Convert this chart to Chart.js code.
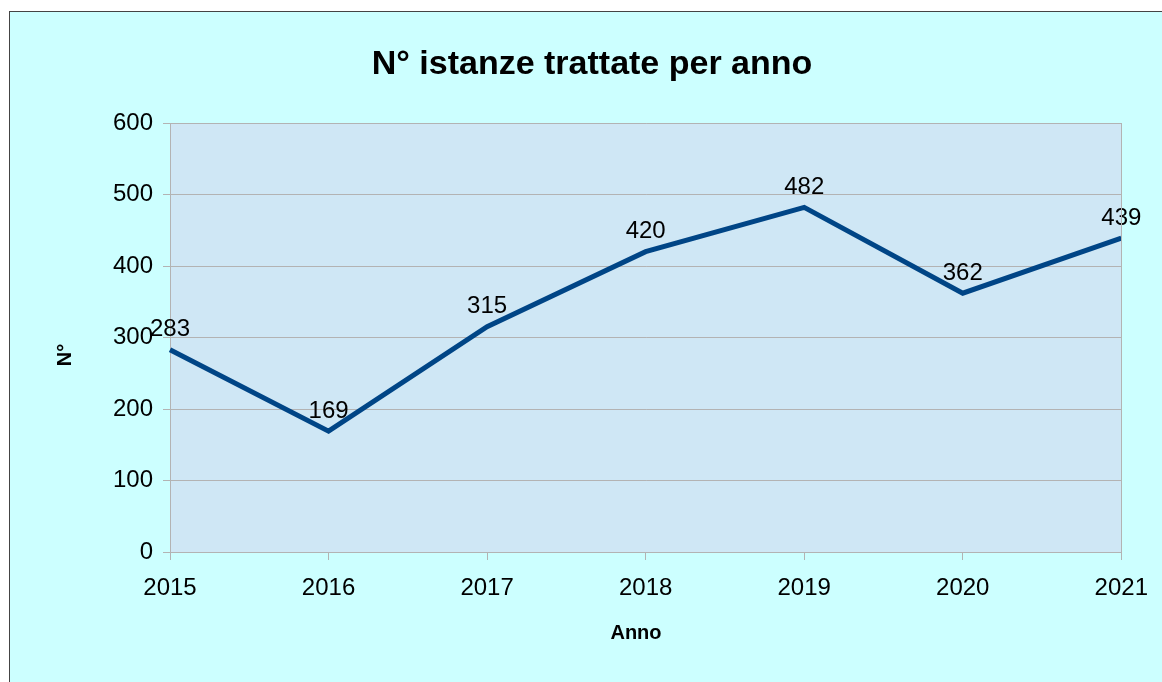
<!DOCTYPE html>
<html>
<head>
<meta charset="utf-8">
<script src="https://cdn.jsdelivr.net/npm/chart.js@4/dist/chart.umd.min.js"></script>
<style>
  html, body { margin: 0; padding: 0; background: #ffffff; }
  canvas { display: block; }
</style>
</head>
<body>
<canvas id="c" width="1162" height="682"></canvas>
<script>
const categories = ['2015', '2016', '2017', '2018', '2019', '2020', '2021'];
const values = [283, 169, 315, 420, 482, 362, 439];
const yTicks = [0, 100, 200, 300, 400, 500, 600];
const chartTitle = 'N° istanze trattate per anno';
const xTitle = 'Anno';
const yTitle = 'N°';

const FONT = '"Liberation Sans", Arial, sans-serif';

const bgPlugin = {
  id: 'bg',
  beforeDraw(chart) {
    const ctx = chart.ctx;
    const a = chart.chartArea;
    ctx.save();
    ctx.fillStyle = '#ffffff';
    ctx.fillRect(0, 0, chart.width, chart.height);
    ctx.fillStyle = '#ccffff';
    ctx.fillRect(9, 11, chart.width + 10, chart.height + 10);
    ctx.strokeStyle = '#444444';
    ctx.lineWidth = 1;
    ctx.strokeRect(9.5, 11.5, chart.width + 10, chart.height + 10);
    ctx.fillStyle = '#cfe7f5';
    ctx.fillRect(a.left, a.top, a.right - a.left, a.bottom - a.top);
    ctx.restore();
  },
  afterDraw(chart) {
    const ctx = chart.ctx;
    const a = chart.chartArea;
    ctx.save();
    ctx.strokeStyle = '#b3b3b3';
    ctx.lineWidth = 1;
    ctx.beginPath();
    ctx.moveTo(Math.round(a.right) + 0.5, a.top);
    ctx.lineTo(Math.round(a.right) + 0.5, a.bottom);
    ctx.stroke();

    // titles
    ctx.fillStyle = '#000000';
    ctx.textAlign = 'center';
    ctx.textBaseline = 'middle';
    ctx.font = 'bold 34px ' + FONT;
    ctx.fillText(chartTitle, 592, 65);
    ctx.font = 'bold 20px ' + FONT;
    ctx.fillText(xTitle, 636, 633);
    ctx.translate(65, 355);
    ctx.rotate(-Math.PI / 2);
    ctx.fillText(yTitle, 0, 0);
    ctx.restore();
  }
};

const labelPlugin = {
  id: 'valLabels',
  afterDatasetsDraw(chart) {
    const ctx = chart.ctx;
    const meta = chart.getDatasetMeta(0);
    const data = chart.data.datasets[0].data;
    ctx.save();
    ctx.font = '24px ' + FONT;
    ctx.fillStyle = '#000000';
    ctx.textAlign = 'center';
    ctx.textBaseline = 'middle';
    meta.data.forEach((pt, i) => {
      ctx.fillText(String(data[i]), pt.x, pt.y - 20);
    });
    ctx.restore();
  }
};

new Chart(document.getElementById('c'), {
  type: 'line',
  data: {
    labels: categories,
    datasets: [{
      data: values,
      borderColor: '#004586',
      borderWidth: 5,
      pointRadius: 0,
      pointHoverRadius: 0,
      tension: 0,
      fill: false,
      clip: false
    }]
  },
  options: {
    responsive: false,
    animation: false,
    events: [],
    layout: { padding: { left: 20, right: 40, top: 123, bottom: 0 } },
    plugins: {
      legend: { display: false },
      tooltip: { enabled: false },
      title: { display: false }
    },
    scales: {
      x: {
        type: 'category',
        offset: false,
        grid: {
          display: true,
          drawOnChartArea: false,
          drawTicks: true,
          tickLength: 8,
          color: '#b3b3b3'
        },
        border: { display: true, color: '#b3b3b3' },
        ticks: {
          color: '#000000',
          font: { family: FONT, size: 24 },
          padding: 14,
          maxRotation: 0,
          autoSkip: false
        },
        title: { display: false },
        afterFit(scale) { scale.height = 130; }
      },
      y: {
        min: 0,
        max: 600,
        afterBuildTicks(scale) { scale.ticks = yTicks.map(v => ({ value: v })); },
        grid: {
          color: '#b3b3b3',
          tickLength: 7,
          drawTicks: true
        },
        border: { display: true, color: '#b3b3b3' },
        ticks: {
          color: '#000000',
          font: { family: FONT, size: 24 },
          padding: 10
        },
        title: { display: false },
        afterFit(scale) { scale.width = 150; }
      }
    }
  },
  plugins: [bgPlugin, labelPlugin]
});
</script>
</body>
</html>
